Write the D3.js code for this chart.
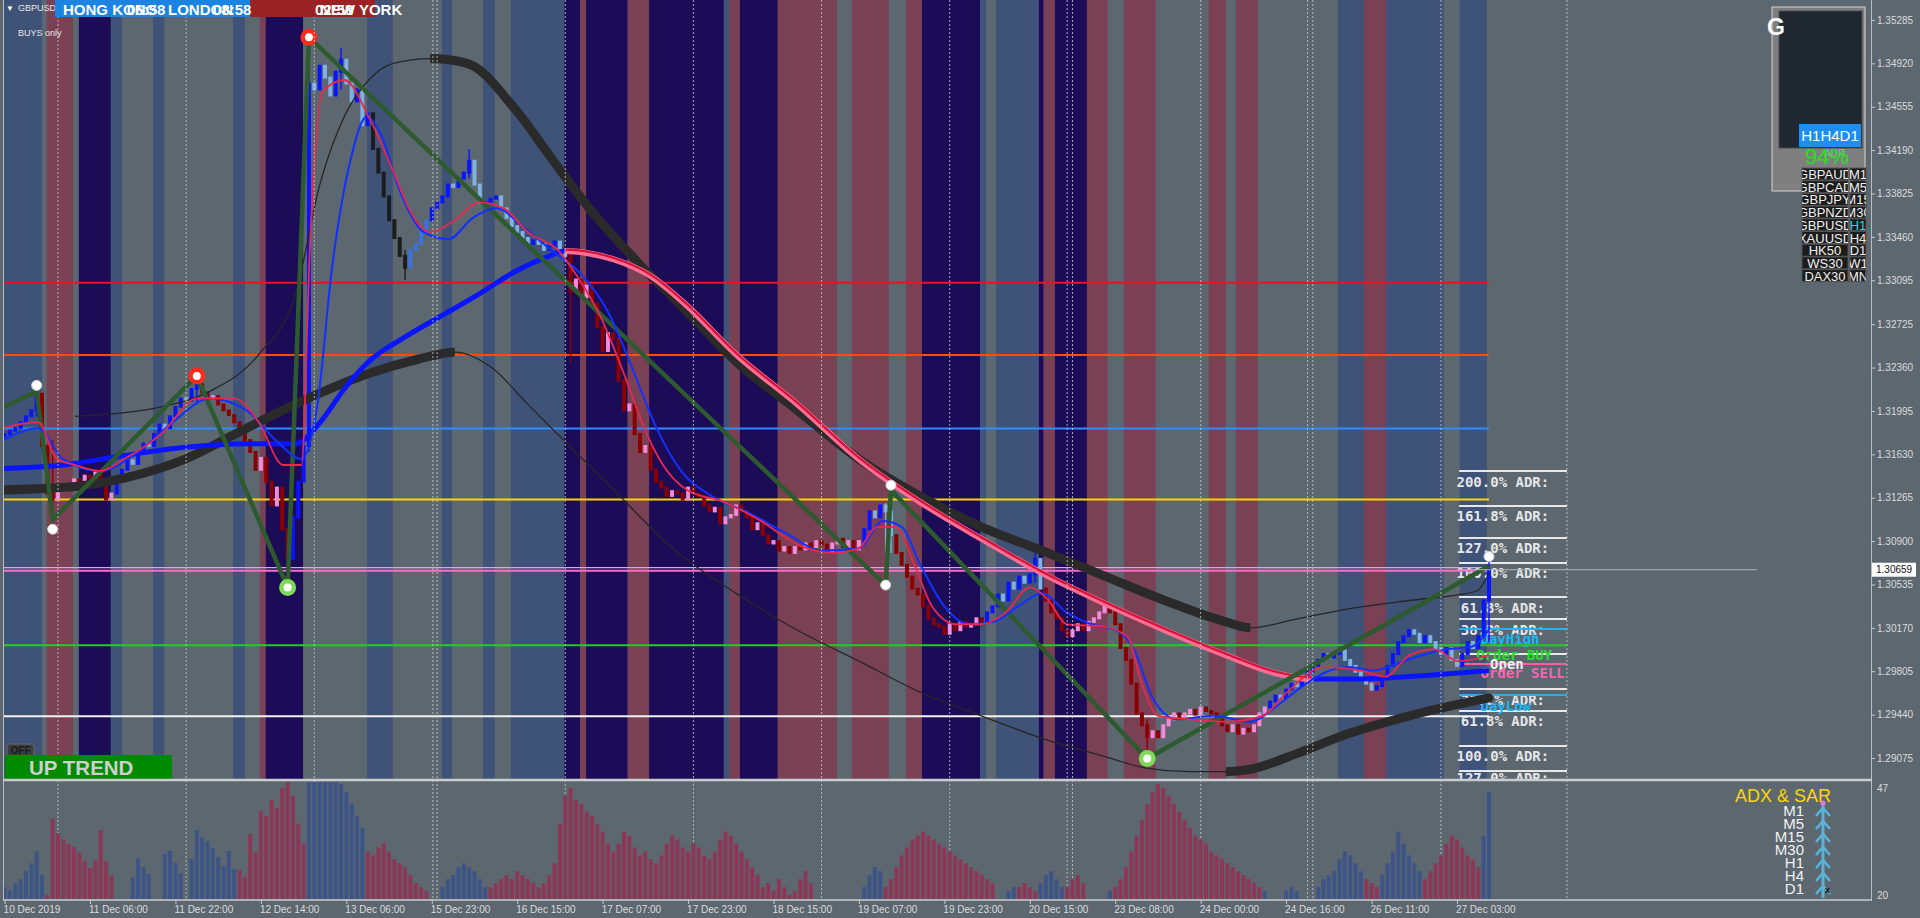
<!DOCTYPE html>
<html><head><meta charset="utf-8">
<script src="https://cdn.jsdelivr.net/npm/d3@7"></script>
<style>
html,body{margin:0;padding:0;background:#5c6770;overflow:hidden}
svg{display:block;font-family:"Liberation Sans",Arial,sans-serif}
</style></head><body>
<svg id="c" width="1920" height="918"></svg>
<script>
// ---------------- DATA ----------------
const closes = [
1.3180,1.3183,1.3185,1.3190,1.3195,1.3200,1.3214,
1.3170,1.3130,1.3125,
1.3132,1.3138,1.3135,1.3142,1.3140,1.3145,1.3143,1.3148,1.3140,1.3125,1.3130,
1.3140,1.3150,1.3158,1.3155,1.3165,1.3172,1.3170,1.3180,1.3188,1.3185,1.3195,1.3203,1.3210,1.3208,1.3218,1.3222,
1.3215,1.3210,1.3212,1.3205,1.3200,1.3196,1.3190,1.3185,1.3175,
1.3165,1.3150,1.3160,1.3140,1.3120,1.3135,1.3100,1.3075,
1.3110,1.3140,1.3170,
1.3475,1.3470,1.3490,1.3480,1.3465,1.3485,1.3495,1.3475,1.3460,1.3470,1.3440,1.3450,
1.3420,1.3400,1.3380,1.3360,1.3345,1.3330,1.3320,1.3335,1.3340,1.3350,
1.3360,1.3370,1.3375,1.3380,1.3390,1.3388,1.3395,1.3400,1.3410,1.3390,1.3375,
1.3375,1.3378,1.3380,1.3370,1.3362,1.3355,1.3350,1.3345,1.3340,
1.3343,1.3340,1.3335,1.3338,1.3342,1.3335,1.3330,
1.3300,1.3310,1.3295,1.3305,1.3290,1.3270,1.3250,1.3265,1.3260,
1.3225,1.3200,1.3205,1.3180,1.3165,1.3170,1.3150,1.3140,1.3135,
1.3128,1.3132,1.3130,1.3125,1.3135,1.3130,1.3128,1.3120,1.3115,1.3118,1.3105,1.3110,1.3112,1.3120,
1.3115,1.3110,1.3100,1.3105,1.3095,1.3088,1.3090,1.3082,1.3085,1.3080,1.3085,
1.3083,1.3088,1.3085,1.3090,1.3087,1.3082,1.3088,1.3092,1.3085,1.3090,1.3083,1.3090,
1.3100,1.3115,1.3110,1.3120,1.3115,1.3095,
1.3080,1.3070,1.3060,1.3050,1.3045,1.3035,1.3025,1.3020,
1.3018,1.3012,1.3020,1.3015,1.3022,1.3018,1.3020,1.3025,1.3022,
1.3030,1.3035,1.3045,1.3040,1.3055,1.3050,1.3060,1.3055,1.3062,1.3075,1.3050,
1.3040,1.3030,1.3025,1.3015,1.3010,1.3015,1.3020,1.3015,1.3022,1.3025,1.3030,1.3035,
1.3030,1.3020,1.3000,1.2990,1.2970,1.2945,1.2935,1.2925,
1.2930,1.2925,1.2935,1.2940,1.2945,1.2942,
1.2945,1.2948,1.2944,1.2950,1.2947,1.2945,1.2940,1.2935,1.2930,
1.2935,1.2928,1.2932,1.2930,1.2935,1.2945,1.2950,
1.2955,1.2960,1.2958,1.2965,1.2970,1.2968,1.2975,1.2980,1.2985,1.2990,1.2995,
1.2992,1.2995,1.2998,1.2990,1.2985,1.2980,1.2975,
1.2970,1.2965,1.2968,1.2975,1.2985,
1.2995,1.3005,1.3010,1.3015,1.3012,1.3005,1.3010,
1.3005,1.3000,1.2995,1.3000,1.2990,
1.2985,1.2995,1.3005,1.3000,1.3010,1.3040,1.30659
];
const firstOpen = 1.3178;
// notable wicks [bar, high, low]
const wicks = [[6,1.3216,1.3195],[9,1.3175,1.3105],[36,1.3229,1.3205],[53,1.3100,1.3051],[57,1.3514,1.3165],
  [63,1.3505,1.3470],[75,1.3335,1.3310],[87,1.3420,1.3395],[106,1.3334,1.3240],[165,1.3122,1.3058],
  [166,1.3133,1.3080],[193,1.3082,1.3055],[214,1.2940,1.2907],[278,1.3075,1.3005]];
// candle trend segments [startBar, trend]
const candleTrend = [[0,'up'],[7,'down'],[21,'up'],[37,'down'],[54,'up'],[69,'flat'],[80,'up'],[106,'down'],[161,'up'],[167,'down'],[184,'up'],[195,'down'],[237,'up']];

// indicator lines: [bar, price]
const fastRed = [[-0.6,1.3185],[6.3,1.3190],[9.8,1.3159],[13.2,1.3154],[17.8,1.3149],[22.4,1.3159],[29.3,1.3180],[36.1,1.3210],[43,1.3210],[47.6,1.3190],[52.2,1.3154],[55.6,1.3154],[57.2,1.3339],[59.5,1.3468],[63.6,1.3478],[68.2,1.3447],[72.8,1.3401],[76.3,1.3365],[79.7,1.3350],[84.3,1.3360],[88.9,1.3375],[93.5,1.3370],[98,1.3350],[103.8,1.3334],[107.2,1.3313],[111.8,1.3277],[116.4,1.3226],[119.8,1.3185],[123.3,1.3154],[127.8,1.3133],[134.7,1.3123],[141.6,1.3107],[148.5,1.3087],[155.4,1.3080],[160,1.3084],[163.4,1.3102],[166.8,1.3102],[170.3,1.3071],[173.7,1.3035],[178.3,1.3020],[182.9,1.3020],[187.5,1.3030],[192,1.3051],[195.5,1.3040],[198.9,1.3020],[205.8,1.3018],[210.4,1.3009],[212.7,1.2974],[216.1,1.2943],[221.9,1.2940],[228.7,1.2938],[235.6,1.2943],[240.2,1.2963],[247.1,1.2984],[254,1.2981],[258.6,1.2976],[263.1,1.2994],[267.7,1.2999],[272.3,1.2989],[278,1.2994]];
const fastBlue = [[-0.6,1.3174],[6.3,1.3185],[10.9,1.3159],[17.8,1.3149],[24.7,1.3164],[31.5,1.3190],[38.4,1.3210],[45.3,1.3200],[51,1.3174],[55.6,1.3159],[58.6,1.3205],[61.3,1.3319],[64.8,1.3411],[67.8,1.3447],[70.5,1.3432],[73.9,1.3386],[78.5,1.3350],[83.1,1.3344],[87.7,1.3362],[92.3,1.3370],[96.9,1.3355],[102.6,1.3334],[108.3,1.3313],[113,1.3283],[117.5,1.3236],[122.1,1.3185],[126.7,1.3149],[132.4,1.3128],[139.3,1.3114],[146.2,1.3097],[153.1,1.3082],[160,1.3084],[164.5,1.3107],[168,1.3102],[171.4,1.3071],[176,1.3035],[180.6,1.3020],[185.2,1.3022],[189.8,1.3035],[194.3,1.3046],[198.9,1.3030],[203.5,1.3020],[208.1,1.3015],[211.5,1.2999],[215,1.2958],[219.6,1.2940],[226.4,1.2943],[233.3,1.2938],[237.9,1.2950],[242.5,1.2966],[247.1,1.2979],[251.7,1.2984],[256.3,1.2981],[260.8,1.2987],[265.4,1.2994],[270,1.2999],[274.6,1.3001],[278,1.3015]];
const slowMA = [[-0.6,1.3151],[10.9,1.3154],[22.4,1.3162],[33.8,1.3169],[45.3,1.3172],[54.5,1.3172],[59.1,1.3190],[63.6,1.3218],[68.2,1.3241],[75.1,1.3262],[82,1.3280],[88.9,1.3298],[95.7,1.3317],[101.5,1.3329],[104.9,1.3334],[109.5,1.3332],[114.1,1.3327],[121,1.3313],[127.8,1.3288],[137,1.3247],[148.5,1.3205],[160,1.3159],[171.4,1.3123],[182.9,1.3092],[194.3,1.3063],[205.8,1.3038],[217.3,1.3015],[228.7,1.2994],[237.9,1.2979],[244.8,1.2974],[254,1.2974],[263.1,1.2976],[272.3,1.2979],[278,1.2981]];
const slowFalling = [[104.9,244.8]];
const bandUpper = [[13.2,1.3195],[20.1,1.3197],[29.3,1.3203],[38.4,1.3216],[47.6,1.3247],[54.5,1.3298],[59.1,1.3391],[63.6,1.3447],[68.2,1.3478],[72.8,1.3492],[79.7,1.3496],[86.6,1.3492],[95.7,1.3453],[102.6,1.3411],[109.5,1.3370],[118.7,1.3324],[127.8,1.3283],[137,1.3241],[148.5,1.3200],[160,1.3159],[171.4,1.3128],[182.9,1.3102],[194.3,1.3082],[205.8,1.3061],[217.3,1.3040],[228.7,1.3022],[233.3,1.3017],[242.5,1.3025],[251.7,1.3033],[263.1,1.3040],[272.3,1.3045],[275.7,1.3048],[278,1.3063]];
const upperThick = [[79.7,233.3]];
const bandLower = [[-0.6,1.3133],[10.9,1.3135],[22.4,1.3143],[33.8,1.3159],[45.3,1.3185],[56.8,1.3210],[68.2,1.3231],[77.4,1.3243],[84.3,1.3249],[91.2,1.3236],[98,1.3205],[104.9,1.3174],[114.1,1.3133],[125.6,1.3082],[137,1.3046],[148.5,1.3015],[160,1.2989],[171.4,1.2963],[182.9,1.2943],[194.3,1.2924],[205.8,1.2909],[213.8,1.2899],[221.9,1.2896],[228.7,1.2896],[233.3,1.2898],[242.5,1.2912],[251.7,1.2928],[263.1,1.2943],[278,1.2958]];
const lowerThick = [[-1,84.3],[228.7,279]];
const zigzag = [[-0.6,1.3202],[6,1.3216],[9,1.3108],[36,1.3229],[53,1.3051],[57,1.3514],[165,1.3053],[166,1.3133],[214,1.2907],[278,1.3069]];
const swingDots = [[6,1.3221],[9,1.3100],[165,1.3053],[166,1.3137],[278,1.3077]];
const swingHighs = [[36,1.3229],[57,1.3514]];
const swingLows = [[53,1.3051],[214,1.2907]];

// session bands [startBar, endBar, session]
const sessions = [[-1,7.0,'asia'],[7.9,12.8,'ny'],[13.9,19.9,'london'],[19.9,22.0,'asia'],[27.8,29.9,'asia'],[42.8,45.0,'asia'],
 [47.8,48.9,'ny'],[48.9,55.9,'london'],[67.9,72.7,'asia'],[81.9,83.8,'asia'],[89.6,91.8,'asia'],[94.8,104.8,'asia'],
 [104.8,107.8,'london'],[107.8,108.9,'ny'],[108.9,116.7,'london'],[116.7,120.7,'ny'],[120.7,134.7,'london'],[134.7,135.7,'asia'],
 [135.7,137.7,'ny'],[137.7,144.8,'london'],[144.8,155.9,'ny'],[158.7,165.6,'ny'],[168.8,171.8,'ny'],[171.8,182.7,'london'],
 [182.7,183.8,'asia'],[185.7,193.7,'asia'],[193.7,194.6,'london'],[194.6,196.7,'ny'],[196.7,202.7,'london'],[202.7,206.6,'ny'],
 [209.6,215.6,'ny'],[225.5,228.7,'ny'],[230.6,234.7,'ny'],[249.7,254.6,'asia'],[254.6,258.7,'ny'],[258.7,269.5,'asia'],[272.5,277.6,'asia']];
const dayBreaks = [10,34,58,80.2,81,105,129,153,177,199,200,224,244,245,269,292.6];

const levelPrices = [1.33073,1.32465,1.31847,1.31249,1.30651,1.30023,1.29425];
const priceTicks = [1.35285,1.34920,1.34555,1.34190,1.33825,1.33460,1.33095,1.32725,1.32360,1.31995,1.31630,1.31265,1.30900,1.30535,1.30170,1.29805,1.29440,1.29075];
const timeLabels = ["10 Dec 2019","11 Dec 06:00","11 Dec 22:00","12 Dec 14:00","13 Dec 06:00","15 Dec 23:00","16 Dec 15:00","17 Dec 07:00","17 Dec 23:00","18 Dec 15:00","19 Dec 07:00","19 Dec 23:00","20 Dec 15:00","23 Dec 08:00","24 Dec 00:00","24 Dec 16:00","26 Dec 11:00","27 Dec 03:00"];
const timeLabelStep = 16;

const adrLines = [1.31490,1.31195,1.30926,1.30715,1.30429,1.30244,1.29950,1.29655,1.29470,1.29175,1.28965];
const adrLabels = ["200.0% ADR:","161.8% ADR:","127.0% ADR:","100.0% ADR:","61.8% ADR:","38.2% ADR:","38.2% ADR:","61.8% ADR:","100.0% ADR:","127.0% ADR:"];
const adrLabelPrices = [1.31397,1.31111,1.30842,1.30631,1.30337,1.30152,1.29562,1.29386,1.29091,1.28906];
const dayHigh = 1.30160, dayLow = 1.29605, orderSell = 1.29865;
const orderTexts = [["DayHigh",1.30076,'hi'],["Order BUY",1.29941,'buy'],["Open",1.29865,'open'],["Order SELL",1.29790,'sell'],["DayLow",1.29512,'lo']];

const adx = [22,21,23,24,26,28,31,25,20,
39.2,35.6,34.1,32.9,32.1,30.8,28.6,26.8,28.8,36.4,28.6,25.0,
19,19,19,
24.5,29.3,27.1,25.3,19,19,30.3,31.1,28.1,25.5,19,29.1,36.4,34.6,33.6,31.8,29.6,27.3,31.1,26.5,
26.3,24.5,35.4,30.8,41.2,
40,44,42,47,49,45,38,33,
50,52,52,52,51,50,48,46,43,40,37,
31,30,32,33,31,29,28,27,25,23,22,21,
19,19,
22,24,25,27,28,27,26,24,22,
22,23,24,25,24,26,25,24,23,22,23,25,28,
38,45,47,44,43,41,40,38,36,33,31,
33,36,35,32,30,31,29,28,30,
33,35,34,32,31,33,32,30,29,31,34,36,35,33,31,29,
27,25,22,23,21,24,22,20,21,
24,26,23,
19,19,19,19,19,19,19,19,19,
22,25,27,26,
22,24,27,30,32,34,35,36,35,34,33,32,31,30,29,28,27,26,25,24,23,
19,19,
21,22,
22,23,22,21,
23,25,26,24,22,
22,24,25,23,
19,19,19,19,
21,
22,24,27,31,35,39,43,46,48,47,45,43,41,39,37,35,34,33,31,30,29,28,27,26,25,24,23,22,
21,
19,19,19,
21,22,21,
19,19,19,22,24,25,
26,29,31,30,28,26,
24,23,22,
25,28,31,36,33,30,28,26,
24,26,28,30,33,35,34,32,30,29,27,
35,46];
const adxDir = [[0,'up'],[8,'down'],[21,'up'],[44,'down'],[57,'up'],[68,'down'],[82,'up'],[91,'down'],[161,'up'],[165,'down'],[188,'up'],[190,'down'],[194,'up'],[199,'down'],[207,'up'],[208,'down'],[236,'up'],[255,'down'],[258,'up'],[266,'down'],[277,'up']];
const adxTicks = [47,20];
const sarFrames = ["M1","M5","M15","M30","H1","H4","D1"];
const watchSymbols = ["GBPAUD","GBPCAD","GBPJPY","GBPNZD","GBPUSD","XAUUSD","HK50","WS30","DAX30"];
const watchFrames = ["M1","M5","M15","M30","H1","H4","D1","W1","MN"];
const sessionsHeader = [["HONG KONG","06:58"],["LONDON","08:58"],["NEW YORK","02:58"]];

// ---------------- DRAW ----------------
const N = closes.length;
const svg = d3.select('#c');
const x = d3.scaleLinear().domain([0, 278]).range([4.6, 1489]);
const y = d3.scaleLinear().domain([1.28898, 1.35453]).range([779, 0]);
const ya = d3.scaleLinear().domain([19, 47]).range([899, 788]);
const segVal = (arr, i) => { let t = arr[0][1]; for (const s of arr) if (i >= s[0]) t = s[1]; return t; };

const defs = svg.append('defs');
defs.append('clipPath').attr('id','clipMain').append('rect').attr('x',4).attr('y',0).attr('width',1867).attr('height',779);
defs.append('clipPath').attr('id','clipSub').append('rect').attr('x',4).attr('y',782).attr('width',1867).attr('height',117);
function rangeClip(id, ranges){
  const cp = defs.append('clipPath').attr('id', id);
  ranges.forEach(r => cp.append('rect').attr('x', x(r[0])).attr('y', 0).attr('width', x(r[1]) - x(r[0])).attr('height', 779));
}
rangeClip('upThick', upperThick);
rangeClip('loThick', lowerThick);
rangeClip('slowRed', slowFalling);
rangeClip('slowBlue', [[-2, slowFalling[0][0]], [slowFalling[0][1], 300]]);

svg.append('rect').attr('width',1920).attr('height',918).attr('fill','#5c6770');

const main = svg.append('g').attr('clip-path','url(#clipMain)');
const bandCol = {asia:'#3f5278', ny:'#7a4155', london:'#1c0c58'};
main.selectAll('rect.band').data(sessions).join('rect').attr('class','band')
  .attr('x', d => x(d[0])).attr('width', d => x(d[1]) - x(d[0])).attr('y', 0).attr('height', 779)
  .attr('fill', d => bandCol[d[2]]);

// day separators (both panels)
svg.append('g').selectAll('line').data(dayBreaks).join('line')
  .attr('x1', d => x(d)).attr('x2', d => x(d)).attr('y1', 0).attr('y2', 899)
  .attr('stroke', '#c9ccd0').attr('stroke-width', 1).attr('stroke-dasharray', '2,2').attr('opacity', 0.8);

// ADR table
const adrG = main.append('g');
adrG.selectAll('line.adr').data(adrLines).join('line').attr('class','adr')
  .attr('x1', x(272.4)).attr('x2', x(292.6)).attr('y1', d => y(d)).attr('y2', d => y(d))
  .attr('stroke', '#e8e8e8').attr('stroke-width', 2);
adrG.selectAll('text.adr').data(adrLabels).join('text').attr('class','adr')
  .attr('x', x(280.6)).attr('y', (d,i) => y(adrLabelPrices[i])).attr('dy','0.36em')
  .attr('text-anchor','middle').attr('font-family','"DejaVu Sans Mono",monospace').attr('font-weight','bold')
  .attr('font-size', 14).attr('fill', '#e6e6e6').text(d => d);
[[dayHigh,'#1eb4f0'],[dayLow,'#1eb4f0'],[orderSell,'#ff5aa8']].forEach(([p,c]) => {
  adrG.append('line').attr('x1', x(272.4)).attr('x2', x(292.6)).attr('y1', y(p)).attr('y2', y(p)).attr('stroke', c).attr('stroke-width', 2);
});
const otCol = {hi:'#19b8f5', buy:'#22e022', open:'#f2f2f2', sell:'#ff62b0', lo:'#19b8f5'};
const otX = {hi:276.4, buy:275.6, open:278.2, sell:276.4, lo:276.4};
adrG.selectAll('text.ot').data(orderTexts).join('text').attr('class','ot')
  .attr('x', d => x(otX[d[2]])).attr('y', d => y(d[1])).attr('dy','0.36em')
  .attr('font-family','"DejaVu Sans Mono",monospace').attr('font-weight','bold').attr('font-size',14)
  .attr('fill', d => otCol[d[2]]).text(d => d[0]);

// horizontal levels
const levelCol = ['#e8141e','#ff4a10','#2f8cff','#ffd400','#ff6ac8','#22cc22','#f2f2f2'];
main.selectAll('line.lvl').data(levelPrices).join('line').attr('class','lvl')
  .attr('x1', 4).attr('x2', (d,i) => i === 5 ? x(292.6) : x(278))
  .attr('y1', d => y(d)).attr('y2', d => y(d))
  .attr('stroke', (d,i) => levelCol[i]).attr('stroke-width', 2);
main.append('line').attr('x1',4).attr('x2',x(278)).attr('y1',y(levelPrices[4])-3).attr('y2',y(levelPrices[4])-3)
  .attr('stroke','#d9a6e6').attr('stroke-width',1.2);

// candles
const cg = main.append('g');
const candleCol = {up:{bull:'#0a14ff',bear:'#7fb2e2'}, flat:{bull:'#3b73dc',bear:'#1c1c1c'}, down:{bull:'#f28ad8',bear:'#8b0000'}};
const candles = closes.map((c,i) => ({i, o: i ? closes[i-1] : firstOpen, c}));
const colorOf = d => { const t = segVal(candleTrend, d.i); return candleCol[t][d.c >= d.o ? 'bull' : 'bear']; };
cg.selectAll('line.wk').data(wicks).join('line').attr('class','wk')
  .attr('x1', d => x(d[0])).attr('x2', d => x(d[0])).attr('y1', d => y(d[1])).attr('y2', d => y(d[2]))
  .attr('stroke', d => colorOf(candles[d[0]])).attr('stroke-width', 1.4);
cg.selectAll('rect.cd').data(candles).join('rect').attr('class','cd')
  .attr('x', d => x(d.i) - 2).attr('width', 4)
  .attr('y', d => y(Math.max(d.o, d.c)) - 1).attr('height', d => Math.abs(y(d.o) - y(d.c)) + 2)
  .attr('fill', colorOf);

const lineGen = d3.line().x(d => x(d[0])).y(d => y(d[1])).curve(d3.curveMonotoneX);
// envelope
main.append('path').attr('d', lineGen(bandUpper)).attr('fill','none').attr('stroke','#262626').attr('stroke-width',1.3);
main.append('path').attr('d', lineGen(bandLower)).attr('fill','none').attr('stroke','#262626').attr('stroke-width',1.3);
main.append('g').attr('clip-path','url(#upThick)').append('path').attr('d', lineGen(bandUpper))
  .attr('fill','none').attr('stroke','#2a2a2a').attr('stroke-width',9).attr('stroke-linecap','round');
main.append('g').attr('clip-path','url(#loThick)').append('path').attr('d', lineGen(bandLower))
  .attr('fill','none').attr('stroke','#2a2a2a').attr('stroke-width',9).attr('stroke-linecap','round');
// slow MA
main.append('g').attr('clip-path','url(#slowBlue)').append('path').attr('d', lineGen(slowMA))
  .attr('fill','none').attr('stroke','#0a14ff').attr('stroke-width',5);
const sr = main.append('g').attr('clip-path','url(#slowRed)');
sr.append('path').attr('d', lineGen(slowMA)).attr('fill','none').attr('stroke','#ff6d93').attr('stroke-width',6);
sr.append('path').attr('d', lineGen(slowMA)).attr('transform','translate(0,-1.5)').attr('fill','none').attr('stroke','#d3123a').attr('stroke-width',2.2);
// zigzag
main.append('path').attr('d', d3.line().x(d => x(d[0])).y(d => y(d[1]))(zigzag))
  .attr('fill','none').attr('stroke','#2d5a2e').attr('stroke-width',4.5);
// fast MAs
main.append('path').attr('d', lineGen(fastBlue)).attr('fill','none').attr('stroke','#1230ff').attr('stroke-width',2);
main.append('path').attr('d', lineGen(fastRed)).attr('fill','none').attr('stroke','#e8284f').attr('stroke-width',1.8);
// markers
main.selectAll('circle.wd').data(swingDots).join('circle').attr('class','wd')
  .attr('cx', d => x(d[0])).attr('cy', d => y(d[1])).attr('r', 5).attr('fill','#ffffff').attr('stroke','#cfcfcf');
[[swingHighs,'#ff2a1a'],[swingLows,'#7fd957']].forEach(([arr,c]) => {
  main.selectAll(null).data(arr).join('circle').attr('cx', d => x(d[0])).attr('cy', d => y(d[1])).attr('r', 8.5).attr('fill', c);
  main.selectAll(null).data(arr).join('circle').attr('cx', d => x(d[0])).attr('cy', d => y(d[1])).attr('r', 4).attr('fill', '#ffffff');
});

// current price line
const last = closes[N-1];
svg.append('line').attr('x1', x(272.4)).attr('x2', 1757).attr('y1', y(last)).attr('y2', y(last)).attr('stroke','#b4b4b4').attr('stroke-width',1);

// ---------------- overlays ----------------
svg.append('text').attr('x',6).attr('y',11).attr('font-size',8).attr('fill','#fff').text('▼');
svg.append('text').attr('x',18).attr('y',11).attr('font-size',9).attr('fill','#e8e8e8').text('GBPUSD-H1');
svg.append('text').attr('x',18).attr('y',36).attr('font-size',9).attr('fill','#e8e8e8').text('BUYS only');
svg.append('rect').attr('x',55).attr('y',0).attr('width',195).attr('height',17).attr('fill','#1c84e0');
svg.append('rect').attr('x',250).attr('y',0).attr('width',125).attr('height',17).attr('fill','#9a2222');
const hdrX = [[63,127],[168,213],[320,315]];
sessionsHeader.forEach((s,i) => {
  svg.append('text').attr('x',hdrX[i][0]).attr('y',15).attr('font-size',15).attr('font-weight','bold').attr('fill','#fff').text(s[0]);
  svg.append('text').attr('x',hdrX[i][1]).attr('y',15).attr('font-size',15).attr('font-weight','bold').attr('fill','#fff').text(s[1]);
});

// OFF button & trend box
svg.append('rect').attr('x',7).attr('y',744).attr('width',27).attr('height',12).attr('rx',2).attr('fill','#3c3f42').attr('stroke','#6a6a6a');
svg.append('text').attr('x',20.5).attr('y',754).attr('text-anchor','middle').attr('font-size',10).attr('font-weight','bold').attr('fill','#1a1a1a').text('OFF');
svg.append('rect').attr('x',5).attr('y',755).attr('width',167).attr('height',24).attr('fill','#008a00');
svg.append('text').attr('x',29).attr('y',775).attr('font-size',20.5).attr('font-weight','bold').attr('fill','#cfcfcf').text('UP TREND');

// right dashboard
svg.append('rect').attr('x',1772).attr('y',7).attr('width',93).attr('height',184).attr('fill','#7f7f7f').attr('stroke','#d4d4d4');
svg.append('rect').attr('x',1779).attr('y',11).attr('width',83).attr('height',137).attr('fill','#1f2831').attr('stroke','#4a4a4a');
svg.append('text').attr('x',1767).attr('y',35).attr('font-size',23).attr('font-weight','bold').attr('fill','#ffffff')
  .attr('font-family','"Liberation Sans Narrow","Liberation Sans",Arial,sans-serif').text('G');
svg.append('text').attr('x',1824).attr('y',157).attr('font-size',10).attr('fill','#a8a8a8').text('ADR');
svg.append('rect').attr('x',1799).attr('y',124).attr('width',62).attr('height',23).attr('fill','#1e8ff0');
svg.append('text').attr('x',1830).attr('y',141).attr('text-anchor','middle').attr('font-size',15).attr('fill','#ffffff').text('H1H4D1');
svg.append('text').attr('x',1827).attr('y',164).attr('text-anchor','middle').attr('font-size',22).attr('fill','#19e619').text('94%');
watchSymbols.forEach((s,i) => {
  const ry = 168 + i*12.7;
  const id1 = 'wc1_'+i, id2 = 'wc2_'+i;
  defs.append('clipPath').attr('id',id1).append('rect').attr('x',1802).attr('y',ry).attr('width',46).attr('height',12);
  defs.append('clipPath').attr('id',id2).append('rect').attr('x',1850).attr('y',ry).attr('width',16).attr('height',12);
  svg.append('rect').attr('x',1802).attr('y',ry).attr('width',46).attr('height',12).attr('fill','#1c1c1c').attr('stroke','#555');
  svg.append('rect').attr('x',1850).attr('y',ry).attr('width',16).attr('height',12).attr('fill','#1c1c1c').attr('stroke','#555');
  svg.append('text').attr('clip-path',`url(#${id1})`).attr('x',1825).attr('y',ry+11).attr('text-anchor','middle').attr('font-size',13).attr('fill','#f0f0f0').text(s);
  svg.append('text').attr('clip-path',`url(#${id2})`).attr('x',1858).attr('y',ry+11).attr('text-anchor','middle').attr('font-size',13)
    .attr('fill', watchFrames[i] === 'H1' ? '#00e5e5' : '#f0f0f0').text(watchFrames[i]);
});

// ---------------- sub panel (ADX) ----------------
const sub = svg.append('g').attr('clip-path','url(#clipSub)');
sub.selectAll('rect').data(adx).join('rect')
  .attr('x', (d,i) => x(i) - 2).attr('width', 4)
  .attr('y', d => ya(d)).attr('height', d => Math.max(0, ya(19) - ya(d)))
  .attr('fill', (d,i) => segVal(adxDir, i) === 'up' ? '#3d5487' : '#8c3755');
svg.append('text').attr('x',1735).attr('y',802).attr('font-size',18).attr('fill','#ffd700').text('ADX & SAR');
sarFrames.forEach((f,i) => {
  const yy = 811 + i*13;
  svg.append('text').attr('x',1804).attr('y',yy).attr('dy','0.36em').attr('text-anchor','end').attr('font-size',15).attr('fill','#f2f2f2').text(f);
  svg.append('path').attr('d',`M1816,${yy+5} L1823,${yy-3} L1830,${yy+5}`).attr('fill','none').attr('stroke','#5ab3da').attr('stroke-width',2.5);
});
svg.append('line').attr('x1',1823).attr('x2',1823).attr('y1',803).attr('y2',898).attr('stroke','#5ab3da').attr('stroke-width',3);
svg.append('circle').attr('cx',1823).attr('cy',803).attr('r',2.5).attr('fill','#e87adf');
svg.append('text').attr('x',1825).attr('y',893).attr('font-size',9).attr('font-weight','bold').attr('fill','#111').text('x');

// ---------------- frames & axes ----------------
svg.append('line').attr('x1',3.5).attr('x2',3.5).attr('y1',0).attr('y2',900).attr('stroke','#b9bdc1');
svg.append('line').attr('x1',1871.5).attr('x2',1871.5).attr('y1',0).attr('y2',900).attr('stroke','#b9bdc1');
svg.append('line').attr('x1',3).attr('x2',1872).attr('y1',780).attr('y2',780).attr('stroke','#c9cdd0').attr('stroke-width',2.5);
svg.append('line').attr('x1',3).attr('x2',1872).attr('y1',900).attr('y2',900).attr('stroke','#c9cdd0').attr('stroke-width',1.5);

const yAxis = d3.axisRight(y).tickValues(priceTicks).tickFormat(d3.format('.5f')).tickSize(4);
const ya1 = svg.append('g').attr('transform','translate(1871,0)').call(yAxis);
ya1.select('.domain').remove();
ya1.selectAll('line').attr('stroke','#c8c8c8');
ya1.selectAll('text').attr('fill','#dcdcdc').attr('font-size',10).attr('font-family','"Liberation Sans",Arial,sans-serif').attr('x',6);

const aAxis = d3.axisRight(ya).tickValues(adxTicks).tickSize(0);
const ya2 = svg.append('g').attr('transform','translate(1871,0)').call(aAxis);
ya2.select('.domain').remove();
ya2.selectAll('text').attr('fill','#dcdcdc').attr('font-size',10).attr('font-family','"Liberation Sans",Arial,sans-serif').attr('x',6);

svg.append('rect').attr('x',1872).attr('y',y(last)-7).attr('width',44).attr('height',14).attr('fill','#ffffff');
svg.append('text').attr('x',1876).attr('y',y(last)).attr('dy','0.36em').attr('font-size',10).attr('fill','#111').text(last.toFixed(5));

const xAxis = d3.axisBottom(x).tickValues(timeLabels.map((d,i) => i*timeLabelStep)).tickFormat((d,i) => timeLabels[i]).tickSize(4);
const xa = svg.append('g').attr('transform','translate(0,900)').call(xAxis);
xa.select('.domain').remove();
xa.selectAll('line').attr('stroke','#c8c8c8');
xa.selectAll('text').attr('fill','#dcdcdc').attr('font-size',10).attr('font-family','"Liberation Sans",Arial,sans-serif')
  .attr('text-anchor','start').attr('x',-1.5).attr('y',6);
</script>
</body></html>
